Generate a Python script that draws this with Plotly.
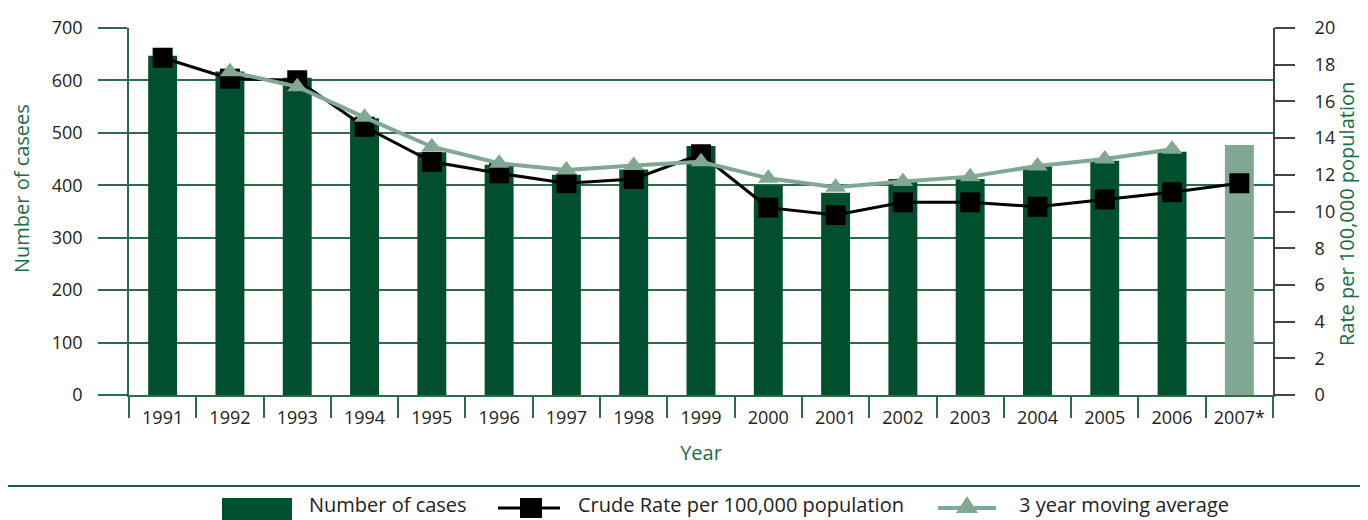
import plotly.graph_objects as go

years = ["1991", "1992", "1993", "1994", "1995", "1996", "1997", "1998", "1999",
         "2000", "2001", "2002", "2003", "2004", "2005", "2006", "2007*"]
cases = [647, 617, 605, 528, 463, 439, 420, 430, 475, 400, 386, 412, 412, 437, 447, 464, 477]
crude_rate = [18.38, 17.24, 17.15, 14.62, 12.71, 12.08, 11.54, 11.77, 13.12,
              10.21, 9.81, 10.5, 10.5, 10.26, 10.66, 11.05, 11.54]
ma_years = years[1:16]
moving_avg = [17.62, 16.8, 15.13, 13.53, 12.63, 12.26, 12.5, 12.71, 11.81,
              11.32, 11.63, 11.9, 12.48, 12.86, 13.39]
legend_labels = ["Number of cases", "Crude Rate per 100,000 population", "3 year moving average"]
left_title = "Number of casees"
right_title = "Rate per 100,000 population"

DARK = "#00502F"
LIGHT = "#80A894"
GRID = "#2E6B4C"
TXT_GREEN = "#1C6B45"
FONT = "Open Sans"

# plot area in page pixels (page has an 8px body margin)
PL, PR, PT, PB = 129, 1273, 28, 395


def px(x):
    return (x - PL) / (PR - PL)


def py(y):
    return (PB - y) / (PB - PT)


bar_colors = [DARK] * (len(years) - 1) + [LIGHT]

fig = go.Figure()
fig.add_trace(go.Bar(x=years, y=cases, name=legend_labels[0],
                     marker=dict(color=bar_colors, line=dict(width=0)),
                     yaxis="y"))
fig.add_trace(go.Scatter(x=years, y=crude_rate, name=legend_labels[1],
                         mode="lines+markers", yaxis="y2",
                         line=dict(color="black", width=3),
                         marker=dict(symbol="square", size=20, color="black")))
fig.add_trace(go.Scatter(x=ma_years, y=moving_avg, name=legend_labels[2],
                         mode="lines+markers", yaxis="y2",
                         line=dict(color=LIGHT, width=4),
                         marker=dict(symbol="triangle-up", size=18, color=LIGHT)))

fig.update_layout(
    width=1360, height=512,
    margin=dict(l=PL - 8, r=1368 - PR, t=PT - 8, b=520 - PB, autoexpand=False),
    paper_bgcolor="white", plot_bgcolor="white",
    font=dict(family=FONT, size=18, color="#222222"),
    bargap=0.57,
    showlegend=False,
    xaxis=dict(type="category", range=[-0.5, len(years) - 0.5], autorange=False,
               automargin=False, showline=True, linecolor=GRID, linewidth=2,
               ticks="outside", tickson="boundaries", ticklen=21, tickwidth=1.5,
               tickcolor=GRID, ticklabelstandoff=5, showgrid=False,
               title=dict(text="Year", font=dict(size=20, color=TXT_GREEN), standoff=18),
               tickfont=dict(size=18)),
    yaxis=dict(range=[0, 700], dtick=100, showgrid=True, gridcolor=GRID, gridwidth=2,
               automargin=False,
               showline=True, linecolor=GRID, linewidth=1.5, ticks="outside",
               ticklen=29, tickwidth=2, tickcolor=GRID, ticklabelstandoff=12,
               zeroline=False, tickfont=dict(size=18)),
    yaxis2=dict(range=[0, 20], dtick=2, overlaying="y", side="right", showgrid=False,
                automargin=False,
                showline=True, linecolor="#444444", linewidth=2, ticks="outside",
                ticklen=20, tickwidth=2, tickcolor="#444444", ticklabelstandoff=16,
                zeroline=False, tickfont=dict(size=18)),
)

# axis titles
fig.add_annotation(xref="paper", yref="paper", x=px(21), y=py(189),
                   xanchor="center", yanchor="middle", showarrow=False, textangle=-90,
                   text=left_title, font=dict(size=20, color=TXT_GREEN))
fig.add_annotation(xref="paper", yref="paper", x=px(1347), y=py(214),
                   xanchor="center", yanchor="middle", showarrow=False, textangle=-90,
                   text=right_title, font=dict(size=20, color=TXT_GREEN))

# separator line above the legend
fig.add_shape(type="line", xref="paper", yref="paper",
              x0=px(0), x1=px(1368), y0=py(486), y1=py(486),
              line=dict(color="#1E5E3E", width=2))

# custom legend
LY = 508
fig.add_shape(type="rect", xref="paper", yref="paper",
              x0=px(222), x1=px(292), y0=py(498), y1=py(530),
              fillcolor=DARK, line=dict(width=0))
fig.add_shape(type="line", xref="paper", yref="paper",
              x0=px(498), x1=px(560), y0=py(LY), y1=py(LY),
              line=dict(color="black", width=3))
fig.add_shape(type="rect", xref="paper", yref="paper",
              x0=px(520), x1=px(542), y0=py(LY - 10), y1=py(LY + 10),
              fillcolor="black", line=dict(width=0))
fig.add_shape(type="line", xref="paper", yref="paper",
              x0=px(938), x1=px(996), y0=py(LY), y1=py(LY),
              line=dict(color=LIGHT, width=4))
fig.add_shape(type="path", xref="paper", yref="paper",
              path=f"M {px(956)},{py(LY + 5)} L {px(978)},{py(LY + 5)} L {px(967)},{py(LY - 12)} Z",
              fillcolor=LIGHT, line=dict(width=0))

for lx, txt in zip([307, 576, 1017], legend_labels):
    fig.add_annotation(xref="paper", yref="paper", x=px(lx), y=py(519.5),
                       xanchor="left", yanchor="bottom", showarrow=False,
                       text=txt, font=dict(size=20, color="#222222"))

fig.write_html("out.html")
